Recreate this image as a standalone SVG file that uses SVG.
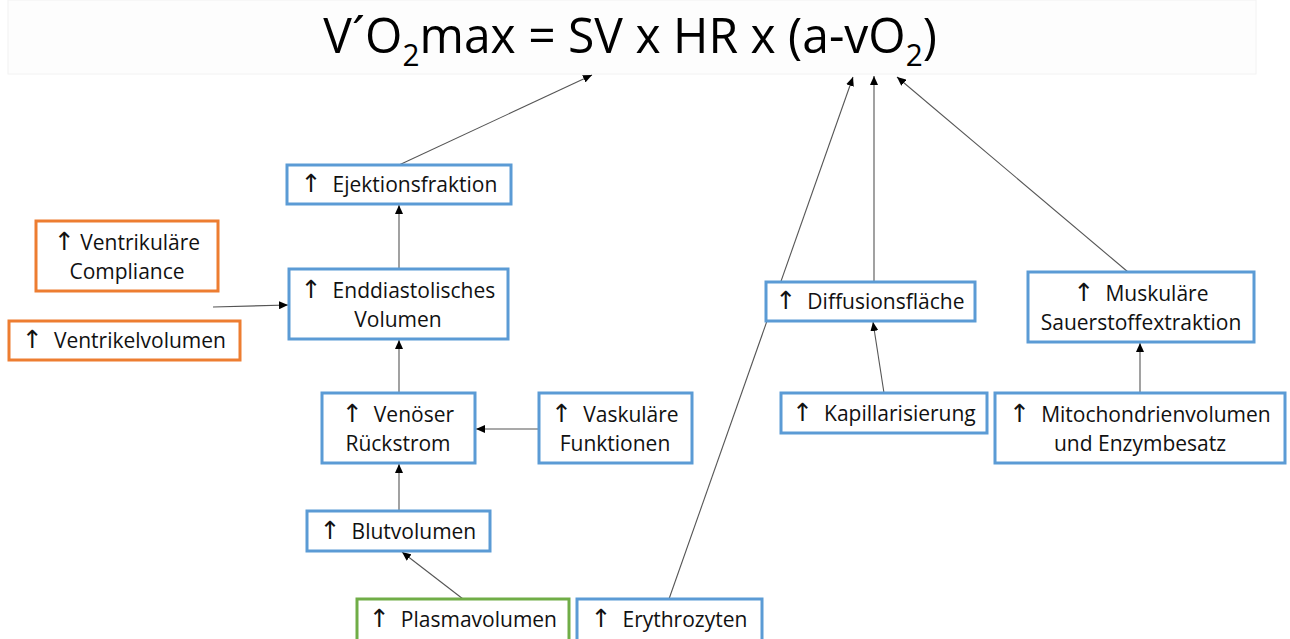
<svg xmlns="http://www.w3.org/2000/svg" width="1290" height="639" viewBox="0 0 1290 639">
<defs>
<marker id="ah" markerUnits="userSpaceOnUse" markerWidth="10" markerHeight="8" refX="9" refY="4" orient="auto">
<path d="M0,0 L9,4 L0,8 Z" fill="#000"/>
</marker>
<style>
.bl{fill:#fff;stroke:#5B9BD5;stroke-width:3}
.or{fill:#fff;stroke:#ED7D31;stroke-width:3}
.gr{fill:#fff;stroke:#70AD47;stroke-width:3}
.t{font-family:"Open Sans","Liberation Sans","DejaVu Sans",sans-serif;font-size:21px;fill:#111;text-anchor:middle}
.a{font-family:"DejaVu Sans",sans-serif;font-size:25px;fill:#111}
.c{stroke:#555;stroke-width:1.1;fill:none;marker-end:url(#ah)}
.title{font-family:"Open Sans","Liberation Sans",sans-serif;font-size:50px;fill:#000}
</style>
</defs>
<rect width="1290" height="639" fill="#fff"/>
<g id="title">
<rect x="8" y="0" width="1248" height="74" fill="#fdfdfd" stroke="#f2f2f2" stroke-width="1"/>
<text class="title" text-anchor="middle" transform="translate(630,53) scale(0.96,1)" xml:space="preserve">V´O<tspan font-size="31" dy="13">2</tspan><tspan dy="-13">max = SV x HR x (a-vO</tspan><tspan font-size="31" dy="13">2</tspan><tspan dy="-13">)</tspan></text>
</g>
<g id="connectors">
<line class="c" x1="399" y1="165" x2="592" y2="75"/>
<line class="c" x1="399" y1="269" x2="399" y2="205"/>
<line class="c" x1="213" y1="307" x2="288" y2="305"/>
<line class="c" x1="399" y1="393" x2="399" y2="340"/>
<line class="c" x1="539" y1="429" x2="476" y2="429"/>
<line class="c" x1="399" y1="511" x2="399" y2="464"/>
<line class="c" x1="463" y1="599" x2="402" y2="552"/>
<line class="c" x1="669" y1="599" x2="853" y2="77"/>
<line class="c" x1="874" y1="282" x2="874" y2="76"/>
<line class="c" x1="884" y1="393" x2="873" y2="322"/>
<line class="c" x1="1128" y1="272" x2="897" y2="77"/>
<line class="c" x1="1140" y1="393" x2="1140" y2="343"/>
</g>
<g id="ejektion"><rect class="bl" x="287" y="165" width="224" height="39"/><text class="t" x="399" y="192" xml:space="preserve"><tspan class="a">↑</tspan>  Ejektionsfraktion</text></g>
<g id="compliance"><rect class="or" x="36" y="221" width="182" height="70"/><text class="t" x="127" y="250" xml:space="preserve"><tspan class="a">↑</tspan> Ventrikuläre</text><text class="t" x="127" y="279">Compliance</text></g>
<g id="enddiastolisch"><rect class="bl" x="289" y="269" width="219" height="70"/><text class="t" x="398" y="298" xml:space="preserve"><tspan class="a">↑</tspan>  Enddiastolisches</text><text class="t" x="398" y="327">Volumen</text></g>
<g id="ventrikelvolumen"><rect class="or" x="9" y="321" width="231" height="39"/><text class="t" x="124" y="348" xml:space="preserve"><tspan class="a">↑</tspan>  Ventrikelvolumen</text></g>
<g id="diffusion"><rect class="bl" x="766" y="282" width="209" height="39"/><text class="t" x="870" y="309" xml:space="preserve"><tspan class="a">↑</tspan>  Diffusionsfläche</text></g>
<g id="muskulaer"><rect class="bl" x="1028" y="272" width="226" height="70"/><text class="t" x="1141" y="301" xml:space="preserve"><tspan class="a">↑</tspan>  Muskuläre</text><text class="t" x="1141" y="330">Sauerstoffextraktion</text></g>
<g id="venoeser"><rect class="bl" x="322" y="393" width="153" height="70"/><text class="t" x="398" y="422" xml:space="preserve"><tspan class="a">↑</tspan>  Venöser</text><text class="t" x="398" y="451">Rückstrom</text></g>
<g id="vaskulaer"><rect class="bl" x="539" y="393" width="153" height="70"/><text class="t" x="615" y="422" xml:space="preserve"><tspan class="a">↑</tspan>  Vaskuläre</text><text class="t" x="615" y="451">Funktionen</text></g>
<g id="kapillar"><rect class="bl" x="781" y="393" width="206" height="40"/><text class="t" x="884" y="421" xml:space="preserve"><tspan class="a">↑</tspan>  Kapillarisierung</text></g>
<g id="mitochondrien"><rect class="bl" x="995" y="393" width="290" height="70"/><text class="t" x="1140" y="422" xml:space="preserve"><tspan class="a">↑</tspan>  Mitochondrienvolumen</text><text class="t" x="1140" y="451">und Enzymbesatz</text></g>
<g id="blutvolumen"><rect class="bl" x="307" y="511" width="183" height="40"/><text class="t" x="398" y="539" xml:space="preserve"><tspan class="a">↑</tspan>  Blutvolumen</text></g>
<g id="plasmavolumen"><rect class="gr" x="357" y="599" width="212" height="42"/><text class="t" x="463" y="627" xml:space="preserve"><tspan class="a">↑</tspan>  Plasmavolumen</text></g>
<g id="erythrozyten"><rect class="bl" x="577" y="599" width="185" height="42"/><text class="t" x="669" y="627" xml:space="preserve"><tspan class="a">↑</tspan>  Erythrozyten</text></g>
</svg>
